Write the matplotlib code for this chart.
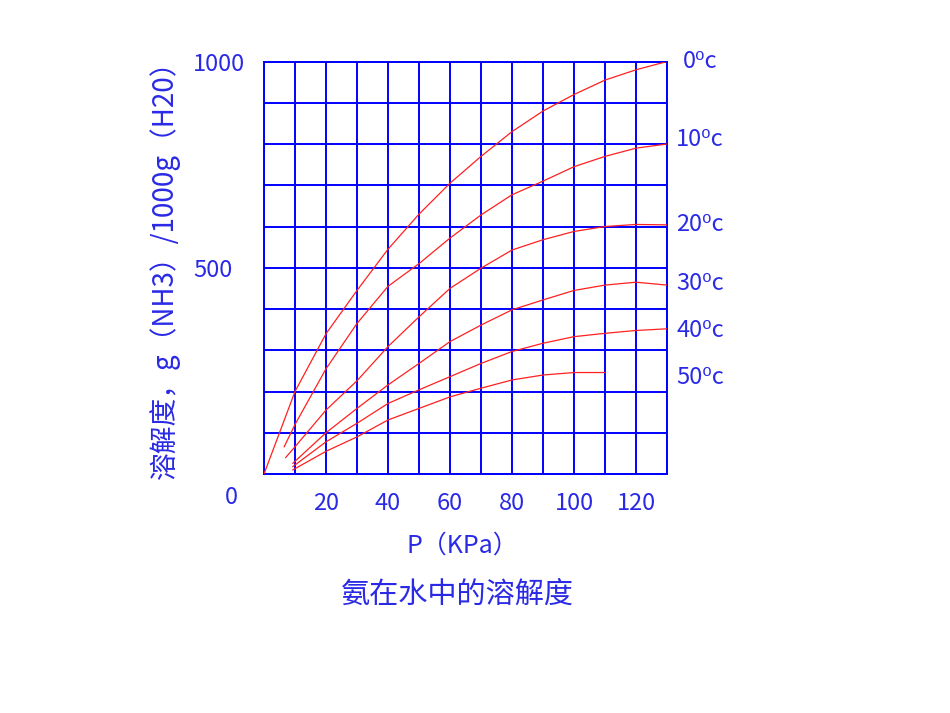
import matplotlib
matplotlib.use('Agg')
import matplotlib.pyplot as plt

plt.rcParams['font.family'] = ['Noto Sans CJK SC', 'DejaVu Sans']

# curves: pressure (kPa) -> g NH3 / 1000 g H2O
p_0 = [0, 10, 20, 30, 40, 50, 60, 70, 80, 90, 100, 110, 120, 130]
s_0 = [0, 200, 340, 445, 545, 630, 705, 770, 830, 880, 920, 955, 980, 1000]
p_10 = [6.5, 10, 20, 30, 40, 50, 60, 70, 80, 90, 100, 110, 120, 130]
s_10 = [66, 120, 255, 365, 455, 510, 572, 628, 677, 710, 745, 770, 790, 800]
p_20 = [7, 10, 20, 30, 40, 50, 60, 70, 80, 90, 100, 110, 120, 130]
s_20 = [40, 66, 155, 226, 309, 381, 450, 499, 543, 568, 588, 600, 605, 604]
p_30 = [9.3, 20, 30, 40, 50, 60, 70, 80, 90, 100, 110, 120, 130]
s_30 = [26, 100, 159, 216, 268, 321, 361, 398, 422, 445, 458, 465, 458]
p_40 = [9.3, 20, 30, 40, 50, 60, 70, 80, 90, 100, 110, 120, 130]
s_40 = [18, 78, 123, 171, 204, 236, 268, 297, 317, 333, 341, 348, 352]
p_50 = [9.3, 20, 30, 40, 50, 60, 70, 80, 90, 100, 110]
s_50 = [10, 55, 90, 131, 159, 187, 208, 228, 240, 246, 246]

curves = [(p_0, s_0), (p_10, s_10), (p_20, s_20), (p_30, s_30), (p_40, s_40), (p_50, s_50)]
temp_labels = ['0', '10', '20', '30', '40', '50']
label_y = [999, 810, 604, 463, 349, 233]

x_ticks = list(range(0, 131, 10))
x_labels = ['' if (t == 0 or t % 20) else str(t) for t in x_ticks]
y_ticks = list(range(0, 1001, 100))
y_labels = {500: '500', 1000: '1000'}

blue = '#0000ff'
txt = '#2a2ae6'

fig = plt.figure(figsize=(9.5, 7.13), dpi=100)
ax = fig.add_axes([0.2779, 0.3352, 0.4242, 0.5785])

for p, s in curves:
    ax.plot(p, s, color='#ff2020', lw=0.9, zorder=3)

ax.set_xlim(0, 130)
ax.set_ylim(0, 1000)
ax.set_xticks(x_ticks)
ax.set_xticklabels(x_labels, fontsize=17, color=txt)
ax.set_yticks(y_ticks)
ax.set_yticklabels([y_labels.get(t, '') for t in y_ticks], fontsize=17, color=txt, ha='left')
ax.tick_params(axis='x', length=0, pad=13)
ax.tick_params(axis='y', length=0, pad=51)
ax.grid(True, color=blue, lw=1.4)
for sp in ax.spines.values():
    sp.set_color(blue)
    sp.set_linewidth(1.4)

ax.text(-10.4, -56, '0', fontsize=17, color=txt, ha='center', va='center', clip_on=False)

for t, y in zip(temp_labels, label_y):
    ax.text(133 if t != '0' else 135, y, t + '\u2070c', fontsize=17, color=txt,
            ha='left', va='center', clip_on=False)

fig.text(462 / 950, 1 - 546 / 713, 'P（KPa）', fontsize=18, color=txt, ha='center', va='center')
fig.text(457 / 950, 1 - 595 / 713, '氨在水中的溶解度', fontsize=21, color=txt, ha='center', va='center')
fig.text(165 / 950, 1 - 263 / 713, '溶解度，g（NH3）/1000g（H20）', fontsize=20, color=txt,
         rotation=90, ha='center', va='center')

fig.savefig('out.png', dpi=100, facecolor='white')
